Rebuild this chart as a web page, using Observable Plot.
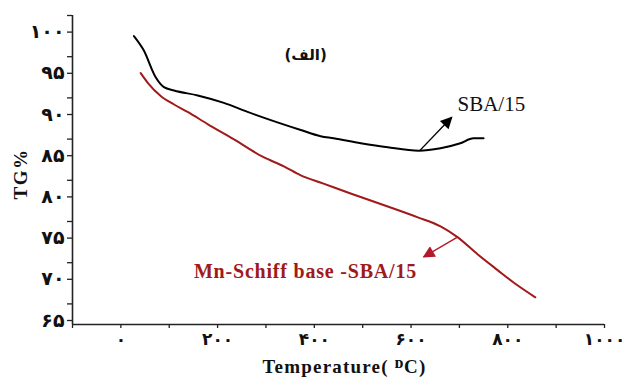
<!DOCTYPE html>
<html>
<head>
<meta charset="utf-8">
<script src="https://cdn.jsdelivr.net/npm/d3@7"></script>
<script src="https://cdn.jsdelivr.net/npm/@observablehq/plot@0.6"></script>
<style>
  html, body { margin: 0; padding: 0; background: #fff; }
</style>
</head>
<body>
<div id="chart"></div>
<script>
// SBA/15 curve (black)
const sbaT  = [27, 47, 72, 89, 110, 159, 213, 262, 310, 372, 413, 440, 496, 552, 616, 661, 702, 729, 750];
const sbaTG = [100, 98.3, 95.0, 93.8, 93.4, 92.8, 91.9, 90.8, 89.8, 88.6, 87.85, 87.6, 87.0, 86.5, 86.1, 86.4, 87.0, 87.6, 87.6];

// Mn-Schiff base-SBA/15 curve (dark red)
const mnT  = [41, 56, 83, 110, 138, 180, 233, 295, 337, 372, 419, 475, 543, 614, 661, 696, 738, 779, 812, 857];
const mnTG = [95.5, 94.3, 92.7, 91.7, 90.8, 89.3, 87.5, 85.3, 84.2, 83.1, 82.1, 80.9, 79.5, 78.0, 76.9, 75.6, 73.5, 71.6, 70.1, 68.3];

// ticks
const xTickValues = [0, 200, 400, 600, 800, 1000];
const xTickLabels = ["۰", "۲۰۰", "۴۰۰", "۶۰۰", "۸۰۰", "۱۰۰۰"];
const xMinorTicks = [-100, 100, 300, 500, 700, 900];
const yTickValues = [65, 70, 75, 80, 85, 90, 95, 100];
const yTickLabels = ["۶۵", "۷۰", "۷۵", "۸۰", "۸۵", "۹۰", "۹۵", "۱۰۰"];
const yMinorTicks = [67.5, 72.5, 77.5, 82.5, 87.5, 92.5, 97.5, 102.5];

// annotations
const panelLabel = ["(الف)"];
const panelT = [382];
const panelTG = [97.1];

const sbaLabel = ["SBA/15"];
const sbaLabelT = [696];
const sbaLabelTG = [90.9];
const sbaArrowFrom = [618, 86.1];
const sbaArrowTo = [684, 90.15];

const mnLabel = ["Mn-Schiff base -SBA/15"];
const mnLabelT = [151];
const mnLabelTG = [70.7];
const mnArrowFrom = [696, 75.6];
const mnArrowTo = [626, 73.2];

const xTitle = ["Temperature( ᴰC)"];
const yTitle = ["TG%"];

const sba = sbaT.map((t, i) => ({T: t, TG: sbaTG[i]}));
const mn = mnT.map((t, i) => ({T: t, TG: mnTG[i]}));
const arrowsBlack = [{x1: sbaArrowFrom[0], y1: sbaArrowFrom[1], x2: sbaArrowTo[0], y2: sbaArrowTo[1]}];
const arrowsRed = [{x1: mnArrowFrom[0], y1: mnArrowFrom[1], x2: mnArrowTo[0], y2: mnArrowTo[1]}];

const red = "#a01a1c";
const arrowRed = "#b3192a";
const serif = "'Liberation Serif', 'DejaVu Serif', serif";
const digitFont = "'DejaVu Sans', sans-serif";

const chart = Plot.plot({
  width: 625,
  height: 378,
  marginLeft: 72,
  marginRight: 21,
  marginTop: 15,
  marginBottom: 54,
  style: {background: "#fff", color: "#222"},
  x: {domain: [-100, 1000]},
  y: {domain: [65, 102.5]},
  marks: [
    Plot.axisY({ticks: yMinorTicks, tickFormat: () => "", tickSize: 5, label: null, stroke: "#222", strokeWidth: 1.3}),
    Plot.axisY({ticks: yTickValues, tickFormat: d => yTickLabels[yTickValues.indexOf(d)], tickSize: 5, tickPadding: 3, dy: -4,
      fontSize: 19, fontWeight: "bold", fontFamily: digitFont, fill: "#111", label: null, stroke: "#222", strokeWidth: 1.3}),
    Plot.axisX({ticks: xMinorTicks, tickFormat: () => "", tickSize: 4, label: null, stroke: "#222", strokeWidth: 1.3}),
    Plot.axisX({ticks: xTickValues, tickFormat: d => xTickLabels[xTickValues.indexOf(d)], tickSize: 4, tickPadding: 4,
      fontSize: 17, fontWeight: "bold", fontFamily: digitFont, fill: "#111", label: null, stroke: "#222", strokeWidth: 1.3}),
    Plot.ruleX([-100], {stroke: "#222", strokeWidth: 1.6}),
    Plot.ruleY([65], {stroke: "#222", strokeWidth: 1.6}),
    Plot.line(sba, {x: "T", y: "TG", stroke: "#000", strokeWidth: 2, curve: "monotone-x"}),
    Plot.line(mn, {x: "T", y: "TG", stroke: red, strokeWidth: 2, curve: "monotone-x"}),
    Plot.link(arrowsBlack, {x1: "x1", y1: "y1", x2: "x2", y2: "y2", stroke: "#000", strokeWidth: 1.4}),
    Plot.link(arrowsRed, {x1: "x1", y1: "y1", x2: "x2", y2: "y2", stroke: arrowRed, strokeWidth: 1.4}),
    Plot.text(panelLabel, {x: (d, i) => panelT[i], y: (d, i) => panelTG[i], text: d => d, textAnchor: "middle", lineAnchor: "bottom",
      fontSize: 15, fontWeight: "bold", fontFamily: digitFont, fill: "#111"}),
    Plot.text(sbaLabel, {x: (d, i) => sbaLabelT[i], y: (d, i) => sbaLabelTG[i], text: d => d, textAnchor: "start", lineAnchor: "bottom",
      fontSize: 21, fontFamily: serif, fill: "#111"}),
    Plot.text(mnLabel, {x: (d, i) => mnLabelT[i], y: (d, i) => mnLabelTG[i], text: d => d, textAnchor: "start", lineAnchor: "bottom",
      fontSize: 20, fontWeight: "bold", fontFamily: serif, fill: red}),
    Plot.text(xTitle, {frameAnchor: "bottom", dx: 6, dy: 48, text: d => d, textAnchor: "middle", lineAnchor: "bottom",
      fontSize: 19, fontWeight: "bold", fontFamily: serif, fill: "#111"}),
    Plot.text(yTitle, {frameAnchor: "left", dx: -52, dy: 4, rotate: -90, text: d => d, textAnchor: "middle", lineAnchor: "middle",
      fontSize: 19, fontWeight: "bold", fontFamily: serif, fill: "#111"})
  ]
});

// filled arrowheads
const svg = d3.select(chart);
const defs = svg.insert("defs", ":first-child");
function addMarker(id, color, w, h) {
  defs.append("marker")
    .attr("id", id).attr("viewBox", "0 0 10 10").attr("refX", 9).attr("refY", 5)
    .attr("markerWidth", w).attr("markerHeight", h).attr("markerUnits", "userSpaceOnUse").attr("orient", "auto")
    .append("path").attr("d", "M0,0L10,5L0,10Z").attr("fill", color);
}
addMarker("ah-black", "#000", 15, 12);
addMarker("ah-red", arrowRed, 13, 12);
svg.selectAll("g[aria-label='link']").each(function() {
  const g = d3.select(this);
  const s = (g.attr("stroke") || "").toLowerCase();
  g.selectAll("path").attr("marker-end", s === arrowRed ? "url(#ah-red)" : "url(#ah-black)");
});
svg.selectAll("text").each(function() {
  const t = d3.select(this);
  const txt = t.text();
  if (txt === xTitle[0]) t.style("letter-spacing", "1.2px");
  if (txt === yTitle[0]) t.style("letter-spacing", "1.5px");
  if (txt === mnLabel[0]) t.style("letter-spacing", "0.8px");
});

document.getElementById("chart").appendChild(chart);
</script>
</body>
</html>
